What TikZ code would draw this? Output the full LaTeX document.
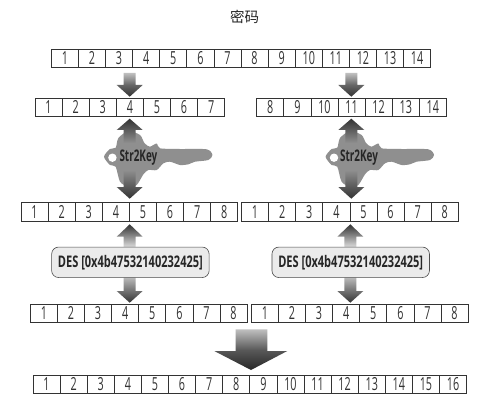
\documentclass[tikz,border=0pt]{standalone}
\usepackage{fontspec}
\setmainfont[FakeStretch=0.6]{Open Sans}
\newfontfamily\desfont[FakeStretch=0.69]{Open Sans Bold}
\newfontfamily\keyfont[FakeStretch=0.62]{Open Sans Bold}
\newfontfamily\cjkfont{Noto Sans CJK SC}
\usetikzlibrary{shadings,fadings}
\definecolor{keygray}{gray}{0.56}
\definecolor{arrowdark}{gray}{0.2}
\definecolor{celledge}{gray}{0.2}
\tikzset{
  x=1pt,y=-1pt,
  cellbox/.style={draw=celledge,line width=0.7pt,fill=white,minimum width=27.1pt,minimum height=18.4pt,inner sep=0pt,outer sep=0pt,text height=12.8pt,text depth=0pt,font=\fontsize{18}{18}\selectfont,text=black!80},
  desbox/.style={draw=black!70,line width=0.6pt,rounded corners=7pt,fill=black!8,minimum width=157.5pt,minimum height=30.5pt,inner sep=0pt,font=\desfont\fontsize{16}{16}\selectfont,text=black!85},
  keylabel/.style={font=\keyfont\fontsize{16}{16}\selectfont,text=black!85,inner sep=0pt}
}
\newcommand{\cellrow}[5]{% prefix, left, centre y, first, last
  \foreach \n [count=\k from 0] in {#4,...,#5}{
    \node[cellbox] (#1\n) at ({#2+13.55+27.1*\k},#3) {\n};
  }
}
\newcommand{\keyshape}[1]{% centre x
  \begin{scope}[shift={(#1,0)}]
  \fill[keygray] plot[smooth cycle,tension=0.45] coordinates {
    (-25.7,156.7) (-19.7,149) (-14,147.7) (-11.3,138) (-1.3,131) (10.3,135)
    (14.7,143) (20,146.7) (27,143.5) (30.3,148.3) (50,149) (77,149.3) (82.7,155)
    (78.7,160) (65.3,161.7) (58.7,164.3) (50.3,165) (40.3,161.7) (33.7,163.3)
    (27,170) (18.7,170) (13.7,174.3) (7,185) (-1.3,186.7) (-9.7,181.7)
    (-14,166.7) (-19.7,165)};
  \fill[white] (-17.3,157.7) circle (4.2);
  \end{scope}
}
\begin{document}
\begin{tikzpicture}
\useasboundingbox (0,0) rectangle (494,406);
\fill[white] (0,0) rectangle (494,406);
\node[inner sep=0pt,text=black!85] (title) at (244.7,16.5) {\cjkfont\fontsize{14.5}{15}\selectfont 密码};

\cellrow{a}{51.3}{58.6}{1}{14}
\cellrow{bl}{35}{107.3}{1}{7}
\cellrow{br}{256.7}{107.3}{8}{14}
\cellrow{cl}{21}{212}{1}{8}
\cellrow{cr}{241.5}{212}{1}{8}
\cellrow{dl}{30.3}{313.5}{1}{8}
\cellrow{dr}{251.3}{313.5}{1}{8}
\cellrow{e}{33}{384.3}{1}{16}

\foreach \c in {129.7,351.3}{
  \shade[top color=black!25,bottom color=arrowdark,middle color=black!60]
    (\c-6,73) -- (\c+6,73) -- (\c+6,85) -- (\c+13,85) -- (\c,96.7) -- (\c-13,85) -- (\c-6,85) -- cycle;
}
\keyshape{129.7}
\keyshape{351.3}
\foreach \c in {129.7,351.3}{
  \shade[top color=arrowdark,bottom color=keygray]
    (\c,118.7) -- (\c+13,130) -- (\c+6,130) -- (\c+6,143) -- (\c-6,143) -- (\c-6,130) -- (\c-13,130) -- cycle;
  \shade[top color=keygray,bottom color=arrowdark]
    (\c-6,170) -- (\c+6,170) -- (\c+6,187) -- (\c+13,187) -- (\c,198.7) -- (\c-13,187) -- (\c-6,187) -- cycle;
}
\node[keylabel,anchor=west] (kl) at (119.3,158) {Str2Key};
\node[keylabel,anchor=west] (kr) at (340,158) {Str2Key};

\foreach \c in {129.7,350.3}{
  \shade[top color=arrowdark,bottom color=black!12]
    (\c,224.3) -- (\c+13,236.7) -- (\c+6,236.7) -- (\c+6,247.7) -- (\c-6,247.7) -- (\c-6,236.7) -- (\c-13,236.7) -- cycle;
  \shade[top color=black!20,bottom color=arrowdark]
    (\c-6,274) -- (\c+6,274) -- (\c+6,291) -- (\c+13,291) -- (\c,302.7) -- (\c-13,291) -- (\c-6,291) -- cycle;
}
\node[desbox] (desl) at (130.4,262.3) {DES [0x4b47532140232425]};
\node[desbox] (desr) at (350.7,262.3) {DES [0x4b47532140232425]};

\shade[top color=black!25,bottom color=black!85,middle color=black!65]
  (235.7,329.3) -- (267.3,329.3) -- (267.3,351) -- (287.3,351) -- (251,370) -- (214.3,351) -- (235.7,351) -- cycle;
\end{tikzpicture}
\end{document}
